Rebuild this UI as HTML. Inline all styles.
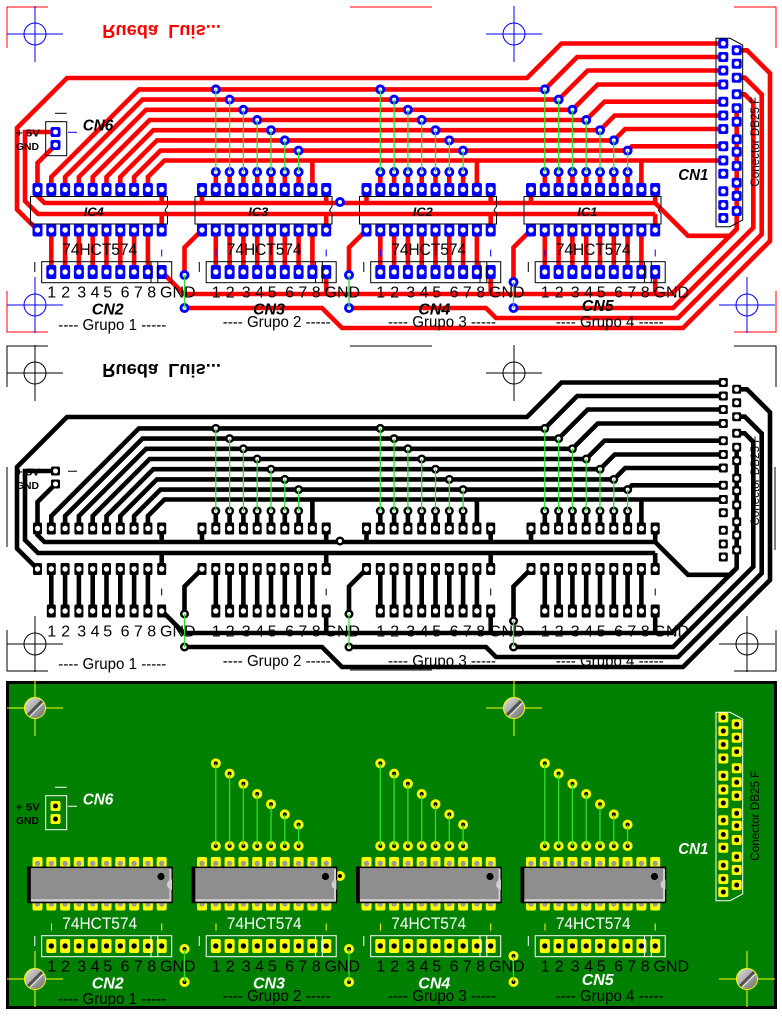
<!DOCTYPE html>
<html><head><meta charset="utf-8"><title>PCB</title>
<style>
html,body{margin:0;padding:0;background:#fff;width:782px;height:1016px;overflow:hidden}
svg{display:block}
text{font-family:"Liberation Sans",Arial,sans-serif}
.bi{font-weight:bold;font-style:italic}
.b{font-weight:bold}
</style></head><body>
<svg xmlns="http://www.w3.org/2000/svg" width="782" height="1016" viewBox="0 0 782 1016">
<defs>
<linearGradient id="sg" x1="0" y1="0" x2="1" y2="1"><stop offset="0" stop-color="#e4e4e4"/><stop offset="1" stop-color="#6a6a6a"/></linearGradient>
<g id="padIC"><rect x="-4.5" y="-6" width="9" height="12" rx="1.5" fill="currentColor" stroke="currentColor"/><circle r="2.7"/></g>
<g id="padCN"><rect x="-4.5" y="-6.5" width="9" height="13" rx="1.5" fill="currentColor" stroke="currentColor"/><circle r="2.7"/></g>
<g id="padS"><rect x="-4.5" y="-4.5" width="9" height="9" rx="1.5" fill="currentColor" stroke="currentColor"/><circle r="2.5"/></g>
<g id="via"><circle r="4.5" fill="currentColor" stroke="currentColor"/><circle r="2"/></g>
<g id="icpads">
<use href="#padIC" x="0" y="189.5"/><use href="#padIC" x="13.8" y="189.5"/><use href="#padIC" x="27.6" y="189.5"/><use href="#padIC" x="41.4" y="189.5"/><use href="#padIC" x="55.2" y="189.5"/><use href="#padIC" x="69" y="189.5"/><use href="#padIC" x="82.8" y="189.5"/><use href="#padIC" x="96.6" y="189.5"/><use href="#padIC" x="110.4" y="189.5"/><use href="#padIC" x="124.2" y="189.5"/>
<use href="#padIC" x="0" y="230"/><use href="#padIC" x="13.8" y="230"/><use href="#padIC" x="27.6" y="230"/><use href="#padIC" x="41.4" y="230"/><use href="#padIC" x="55.2" y="230"/><use href="#padIC" x="69" y="230"/><use href="#padIC" x="82.8" y="230"/><use href="#padIC" x="96.6" y="230"/><use href="#padIC" x="110.4" y="230"/><use href="#padIC" x="124.2" y="230"/>
</g>
<g id="cnpads">
<use href="#padCN" x="13.8" y="272"/><use href="#padCN" x="27.6" y="272"/><use href="#padCN" x="41.4" y="272"/><use href="#padCN" x="55.2" y="272"/><use href="#padCN" x="69" y="272"/><use href="#padCN" x="82.8" y="272"/><use href="#padCN" x="96.6" y="272"/><use href="#padCN" x="110.4" y="272"/><use href="#padCN" x="124.2" y="272"/>
</g>
<g id="viaset">
<use href="#via" x="13.8" y="89.4"/><use href="#via" x="27.6" y="99.6"/><use href="#via" x="41.4" y="109.8"/><use href="#via" x="55.2" y="120"/><use href="#via" x="69" y="130.2"/><use href="#via" x="82.8" y="140.4"/><use href="#via" x="96.6" y="150.6"/>
<use href="#via" x="13.8" y="172"/><use href="#via" x="27.6" y="172"/><use href="#via" x="41.4" y="172"/><use href="#via" x="55.2" y="172"/><use href="#via" x="69" y="172"/><use href="#via" x="82.8" y="172"/><use href="#via" x="96.6" y="172"/>
<path d="M13.8 89.4V172M27.6 99.6V172M41.4 109.8V172M55.2 120V172M69 130.2V172M82.8 140.4V172M96.6 150.6V172" stroke="#2ee02e" stroke-width="1.3" fill="none"/>
</g>
<g id="xvias">
<use href="#via" x="340" y="202"/>
<use href="#via" x="184.5" y="275"/><use href="#via" x="184.5" y="308"/>
<use href="#via" x="349" y="275"/><use href="#via" x="349" y="308"/>
<use href="#via" x="513.5" y="282"/><use href="#via" x="513.5" y="308"/>
<path d="M184.5 275V308M349 275V308M513.5 282V308" stroke="#2ee02e" stroke-width="1.3" fill="none"/>
</g>
<g id="cn1pads">
<use href="#padS" x="723.3" y="43.5"/><use href="#padS" x="723.3" y="57"/><use href="#padS" x="723.3" y="70.5"/><use href="#padS" x="723.3" y="84.5"/><use href="#padS" x="723.3" y="101.7"/><use href="#padS" x="723.3" y="115.5"/><use href="#padS" x="723.3" y="129"/><use href="#padS" x="723.3" y="146.3"/><use href="#padS" x="723.3" y="160.5"/><use href="#padS" x="723.3" y="173.7"/><use href="#padS" x="723.3" y="191.3"/><use href="#padS" x="723.3" y="205"/><use href="#padS" x="723.3" y="218"/>
<use href="#padS" x="736.7" y="50.3"/><use href="#padS" x="736.7" y="63.7"/><use href="#padS" x="736.7" y="77.7"/><use href="#padS" x="736.7" y="94.3"/><use href="#padS" x="736.7" y="108.3"/><use href="#padS" x="736.7" y="121.7"/><use href="#padS" x="736.7" y="139.3"/><use href="#padS" x="736.7" y="151.7"/><use href="#padS" x="736.7" y="166"/><use href="#padS" x="736.7" y="182.7"/><use href="#padS" x="736.7" y="196"/><use href="#padS" x="736.7" y="211"/>
<use href="#padS" x="55.5" y="132"/><use href="#padS" x="55.5" y="145"/>
</g>
<path id="icbox" fill="none" d="M-7 196.5H130V206.5L127.5 210.2L130 213.8V224H-7Z"/>
<g id="cnbox" fill="none"><rect x="4.2" y="261.7" width="130" height="21"/><path d="M113.5 261.7V282.7M120.3 261.7V282.7M-2.7 262V272"/></g>
<path id="ticks" fill="none" d="M14 249.5V256.5M124.2 249.5V256.5"/>
<g id="icbody">
<rect x="-9.7" y="193.3" width="144.2" height="35.2" fill="#8e8e8e" stroke="#000" stroke-width="1.5"/>
<rect x="-9.7" y="193.3" width="3" height="35.2" fill="#000"/>
<rect x="-6.5" y="225.2" width="140.2" height="2.2" fill="#d0d0d0"/>
<rect x="132" y="195" width="2" height="32.4" fill="#d0d0d0"/>
<path d="M134.5 205.5A5 5 0 0 0 134.5 215.5Z" fill="#d0d0d0"/>
<circle cx="123.5" cy="202.5" r="3.6" fill="#000"/>
</g>
<g id="screw">
<path d="M-28 0H28M0 -28V28" stroke="#ff0" stroke-width="1" fill="none"/>
<circle r="10.5" fill="url(#sg)" stroke="#ff0" stroke-width="1"/>
<path d="M7 -7L-7 7" stroke="#505050" stroke-width="3"/>
<path d="M8.3 -5L-5 8.3" stroke="#eeeeee" stroke-width="1"/>
</g>
<g id="traces" fill="none" stroke-width="4.6">
<path d="M51.3 189V177L138.9 89.4H544.8L577.2 57H723.3"/>
<path d="M65.1 189V177L142.5 99.6H558.6L587.7 70.5H723.3"/>
<path d="M78.9 189V177L146.1 109.8H572.4L597.7 84.5H723.3"/>
<path d="M92.7 189V177L149.7 120H586.2L604.5 101.7H723.3"/>
<path d="M106.5 189V177L153.3 130.2H600L614.7 115.5H723.3"/>
<path d="M120.3 189V177L156.9 140.4H613.8L625.2 129H723.3"/>
<path d="M134.1 189V177L160.5 150.6H627.6L631.9 146.3H723.3"/>
<path d="M147.9 189V177L164.4 160.5H723.3"/>
<path d="M37.5 230L17 209.5V128L67 78H527L561.5 43.5H723.3"/>
<path d="M55.5 132H25V201L38 214H655.2"/>
<path d="M55.5 145L37.5 163V196L44.5 203H655.2L688 235.8H730L736.7 229.1"/>
<path d="M202 189V203M366.5 189V203M531 189V203M161.7 189V203M326.2 189V203M490.7 189V203M655.2 189V203M161.7 230V214M326.2 230V214M490.7 230V214M655.2 230V214"/>
<path d="M312.4 160.5V189M476.9 160.5V189M641.4 160.5V189"/>
<path d="M215.8 172V189M229.6 172V189M243.4 172V189M257.2 172V189M271 172V189M284.8 172V189M298.6 172V189M380.3 172V189M394.1 172V189M407.9 172V189M421.7 172V189M435.5 172V189M449.3 172V189M463.1 172V189M544.8 172V189M558.6 172V189M572.4 172V189M586.2 172V189M600 172V189M613.8 172V189M627.6 172V189"/>
<path d="M51.3 230V271.7M65.1 230V271.7M78.9 230V271.7M92.7 230V271.7M106.5 230V271.7M120.3 230V271.7M134.1 230V271.7M147.9 230V271.7M215.8 230V271.7M229.6 230V271.7M243.4 230V271.7M257.2 230V271.7M271 230V271.7M284.8 230V271.7M298.6 230V271.7M312.4 230V271.7M380.3 230V271.7M394.1 230V271.7M407.9 230V271.7M421.7 230V271.7M435.5 230V271.7M449.3 230V271.7M463.1 230V271.7M476.9 230V271.7M544.8 230V271.7M558.6 230V271.7M572.4 230V271.7M586.2 230V271.7M600 230V271.7M613.8 230V271.7M627.6 230V271.7M641.4 230V271.7"/>
<path d="M161.7 271.7L184 294H671.7L736.7 229V108.3"/>
<path d="M326.2 271.7V294M490.7 271.7V294M655.2 271.7V294"/>
<path d="M202 230L184.5 247.5V275M366.5 230L349 247.5V275M531 230L513.5 247.5V282"/>
<path d="M184.5 308H322L342 328H683L770 241V73.3L747 50.3H736.7"/>
<path d="M349 308H486L496 318H678L761.7 234.3V94.5L744.9 77.7H736.7"/>
<path d="M513.5 308H673L753.3 227.7V103L744.6 94.3H736.7"/>
</g>
</defs>

<rect x="0" y="0" width="782" height="1016" fill="#fff"/>

<!-- ================= TOP PANEL (solder side, red) ================= -->
<g>
<path d="M7 48V7H48M350 7H432M734 7H776V48M7 291V332H48M734 332H776V291" fill="none" stroke="#f00" stroke-width="1"/>
<g fill="none" stroke="#00f" stroke-width="1">
<circle cx="35" cy="34" r="11"/><path d="M7 34H63M35 6V62"/>
<circle cx="514" cy="34" r="11"/><path d="M486 34H542M514 6V62"/>
<circle cx="35" cy="305" r="11"/><path d="M7 305H63M35 277V333"/>
<circle cx="747" cy="305" r="11"/><path d="M719 305H775M747 277V333"/>
</g>
<text transform="translate(102.3,25) scale(1,-1)" x="0" y="0" font-size="18.5" class="b" fill="#f00" textLength="118.7" lengthAdjust="spacingAndGlyphs">Rueda&#160; Luis...</text>

<use href="#traces" stroke="#f00"/>

<g color="#0000ff" fill="#fff" stroke-width="1">
<use href="#icpads" x="37.5"/><use href="#icpads" x="202"/><use href="#icpads" x="366.5"/><use href="#icpads" x="531"/>
<use href="#cnpads" x="37.5"/><use href="#cnpads" x="202"/><use href="#cnpads" x="366.5"/><use href="#cnpads" x="531"/>
<use href="#viaset" x="202"/><use href="#viaset" x="366.5"/><use href="#viaset" x="531"/>
<use href="#xvias"/>
<use href="#cn1pads"/>
</g>

<g stroke="#000" stroke-width="1" fill="none">
<use href="#icbox" x="37.5"/><use href="#icbox" x="202"/><use href="#icbox" x="366.5"/><use href="#icbox" x="531"/>
<use href="#cnbox" x="37.5"/><use href="#cnbox" x="202"/><use href="#cnbox" x="366.5"/><use href="#cnbox" x="531"/>
<rect x="45.7" y="121.7" width="21" height="34"/>
<path d="M55 113.3H66.7"/>
<path d="M716 38.3H730L742.7 45V220L730 226.7H716Z"/>
</g>
<g stroke="#00f" stroke-width="1" fill="none">
<use href="#ticks" x="37.5"/><use href="#ticks" x="202"/><use href="#ticks" x="366.5"/><use href="#ticks" x="531"/>
<path d="M68 132.3H77"/>
</g>

<g fill="#000">
<text class="bi" font-size="12" x="83.8" y="216" textLength="20" lengthAdjust="spacingAndGlyphs">IC4</text>
<text class="bi" font-size="12" x="248.3" y="216" textLength="20" lengthAdjust="spacingAndGlyphs">IC3</text>
<text class="bi" font-size="12" x="412.8" y="216" textLength="20" lengthAdjust="spacingAndGlyphs">IC2</text>
<text class="bi" font-size="12" x="577.3" y="216" textLength="20" lengthAdjust="spacingAndGlyphs">IC1</text>
<text font-size="17" x="62.2" y="255" textLength="75" lengthAdjust="spacingAndGlyphs">74HCT574</text>
<text font-size="17" x="226.7" y="255" textLength="75" lengthAdjust="spacingAndGlyphs">74HCT574</text>
<text font-size="17" x="391.2" y="255" textLength="75" lengthAdjust="spacingAndGlyphs">74HCT574</text>
<text font-size="17" x="555.7" y="255" textLength="75" lengthAdjust="spacingAndGlyphs">74HCT574</text>
<text font-size="16" y="297.5" x="47.3 61.3 77.3 90.6 103.3 120.6 133.9 147.3 160">12345678GND</text>
<text font-size="16" y="297.5" x="211.8 225.8 241.8 255.1 267.8 285.1 298.4 311.8 324.5">12345678GND</text>
<text font-size="16" y="297.5" x="376.3 390.3 406.3 419.6 432.3 449.6 462.9 476.3 489">12345678GND</text>
<text font-size="16" y="297.5" x="540.8 554.8 570.8 584.1 596.8 614.1 627.4 640.8 653.5">12345678GND</text>
<text class="bi" font-size="16" x="91.7" y="314.3" textLength="32" lengthAdjust="spacingAndGlyphs">CN2</text>
<text class="bi" font-size="16" x="253" y="314.3" textLength="32" lengthAdjust="spacingAndGlyphs">CN3</text>
<text class="bi" font-size="16" x="418.3" y="314.3" textLength="32" lengthAdjust="spacingAndGlyphs">CN4</text>
<text class="bi" font-size="16" x="581.7" y="311" textLength="32" lengthAdjust="spacingAndGlyphs">CN5</text>
<text font-size="15.5" x="58.3" y="330" textLength="108" lengthAdjust="spacingAndGlyphs">---- Grupo 1 -----</text>
<text font-size="15.5" x="222.7" y="327" textLength="108" lengthAdjust="spacingAndGlyphs">---- Grupo 2 -----</text>
<text font-size="15.5" x="388" y="327" textLength="108" lengthAdjust="spacingAndGlyphs">---- Grupo 3 -----</text>
<text font-size="15.5" x="555.7" y="327" textLength="108" lengthAdjust="spacingAndGlyphs">---- Grupo 4 -----</text>
<text class="b" font-size="10.5" x="16" y="136.5" textLength="24" lengthAdjust="spacingAndGlyphs">+ 5V</text>
<text class="b" font-size="10.5" x="16" y="150" textLength="23" lengthAdjust="spacingAndGlyphs">GND</text>
<text class="bi" font-size="15.5" x="82.7" y="130.7" textLength="30.6" lengthAdjust="spacingAndGlyphs">CN6</text>
<text class="bi" font-size="16" x="678.3" y="180" textLength="30" lengthAdjust="spacingAndGlyphs">CN1</text>
<text transform="translate(759,186.7) rotate(-90)" font-size="12" x="0" y="0" textLength="90" lengthAdjust="spacingAndGlyphs">Conector DB25 F</text>
</g>
</g>

<!-- ================= MIDDLE PANEL (black) ================= -->
<g transform="translate(0,339)">
<path d="M7 48V7H48M350 7H432M734 7H776V48M7 291V332H48M350 331H432M734 332H776V291M7 128V208M775 128V211" fill="none" stroke="#000" stroke-width="1"/>
<g fill="none" stroke="#000" stroke-width="1">
<circle cx="35" cy="34" r="11"/><path d="M7 34H63M35 6V62"/>
<circle cx="514" cy="34" r="11"/><path d="M486 34H542M514 6V62"/>
<circle cx="35" cy="305" r="11"/><path d="M7 305H63M35 277V333"/>
<circle cx="747" cy="305" r="11"/><path d="M719 305H775M747 277V333"/>
</g>
<text transform="translate(102.3,25) scale(1,-1)" x="0" y="0" font-size="18.5" class="b" fill="#000" textLength="118.7" lengthAdjust="spacingAndGlyphs">Rueda&#160; Luis...</text>

<use href="#traces" stroke="#000"/>

<g color="#000" fill="#fff" stroke-width="0">
<use href="#icpads" x="37.5"/><use href="#icpads" x="202"/><use href="#icpads" x="366.5"/><use href="#icpads" x="531"/>
<use href="#cnpads" x="37.5"/><use href="#cnpads" x="202"/><use href="#cnpads" x="366.5"/><use href="#cnpads" x="531"/>
<use href="#viaset" x="202"/><use href="#viaset" x="366.5"/><use href="#viaset" x="531"/>
<use href="#xvias"/>
<use href="#cn1pads"/>
</g>
<path d="M161.7 249.5V256.5M326.2 249.5V256.5M490.7 249.5V256.5M655.2 249.5V256.5M68 132.3H77" stroke="#000" stroke-width="1" fill="none"/>

<g fill="#000">
<text font-size="16" y="297.5" x="47.3 61.3 77.3 90.6 103.3 120.6 133.9 147.3 160">12345678GND</text>
<text font-size="16" y="297.5" x="211.8 225.8 241.8 255.1 267.8 285.1 298.4 311.8 324.5">12345678GND</text>
<text font-size="16" y="297.5" x="376.3 390.3 406.3 419.6 432.3 449.6 462.9 476.3 489">12345678GND</text>
<text font-size="16" y="297.5" x="540.8 554.8 570.8 584.1 596.8 614.1 627.4 640.8 653.5">12345678GND</text>
<text font-size="15.5" x="58.3" y="330" textLength="108" lengthAdjust="spacingAndGlyphs">---- Grupo 1 -----</text>
<text font-size="15.5" x="222.7" y="327" textLength="108" lengthAdjust="spacingAndGlyphs">---- Grupo 2 -----</text>
<text font-size="15.5" x="388" y="327" textLength="108" lengthAdjust="spacingAndGlyphs">---- Grupo 3 -----</text>
<text font-size="15.5" x="555.7" y="327" textLength="108" lengthAdjust="spacingAndGlyphs">---- Grupo 4 -----</text>
<text class="b" font-size="10.5" x="16" y="136.5" textLength="24" lengthAdjust="spacingAndGlyphs">+ 5V</text>
<text class="b" font-size="10.5" x="16" y="150" textLength="23" lengthAdjust="spacingAndGlyphs">GND</text>
<text transform="translate(759,186.7) rotate(-90)" font-size="12" x="0" y="0" textLength="90" lengthAdjust="spacingAndGlyphs">Conector DB25 F</text>
</g>
</g>

<!-- ================= BOTTOM PANEL (component side, green) ================= -->
<rect x="6" y="681" width="771" height="328" fill="#000"/>
<rect x="9" y="684" width="765" height="322" fill="#008000"/>
<g transform="translate(0,674)">
<use href="#screw" x="35" y="34"/>
<use href="#screw" x="514" y="34"/>
<use href="#screw" x="35" y="305"/>
<use href="#screw" x="747" y="305"/>

<g color="#ffff00" fill="#9a9a9a" stroke-width="1">
<use href="#icpads" x="37.5"/><use href="#icpads" x="202"/><use href="#icpads" x="366.5"/><use href="#icpads" x="531"/>
</g>
<g color="#ffff00" fill="#000" stroke-width="1">
<use href="#cnpads" x="37.5"/><use href="#cnpads" x="202"/><use href="#cnpads" x="366.5"/><use href="#cnpads" x="531"/>
<use href="#viaset" x="202"/><use href="#viaset" x="366.5"/><use href="#viaset" x="531"/>
<use href="#xvias"/>
<use href="#cn1pads"/>
</g>
<use href="#icbody" x="37.5"/><use href="#icbody" x="202"/><use href="#icbody" x="366.5"/><use href="#icbody" x="531"/>

<g stroke="#fff" stroke-width="1" fill="none">
<use href="#cnbox" x="37.5"/><use href="#cnbox" x="202"/><use href="#cnbox" x="366.5"/><use href="#cnbox" x="531"/>
<rect x="45.7" y="121.7" width="21" height="34"/>
<path d="M55 113.3H66.7M68 132.3H77"/>
<path d="M716 38.3H730L742.7 45V220L730 226.7H716Z"/>
</g>
<g stroke="#ff0" stroke-width="1" fill="none">
<use href="#ticks" x="37.5"/><use href="#ticks" x="202"/><use href="#ticks" x="366.5"/><use href="#ticks" x="531"/>
</g>

<g fill="#fff">
<text font-size="17" x="62.2" y="255" textLength="75" lengthAdjust="spacingAndGlyphs">74HCT574</text>
<text font-size="17" x="226.7" y="255" textLength="75" lengthAdjust="spacingAndGlyphs">74HCT574</text>
<text font-size="17" x="391.2" y="255" textLength="75" lengthAdjust="spacingAndGlyphs">74HCT574</text>
<text font-size="17" x="555.7" y="255" textLength="75" lengthAdjust="spacingAndGlyphs">74HCT574</text>
<text class="bi" font-size="16" x="91.7" y="314.3" textLength="32" lengthAdjust="spacingAndGlyphs">CN2</text>
<text class="bi" font-size="16" x="253" y="314.3" textLength="32" lengthAdjust="spacingAndGlyphs">CN3</text>
<text class="bi" font-size="16" x="418.3" y="314.3" textLength="32" lengthAdjust="spacingAndGlyphs">CN4</text>
<text class="bi" font-size="16" x="581.7" y="311" textLength="32" lengthAdjust="spacingAndGlyphs">CN5</text>
<text class="bi" font-size="15.5" x="82.7" y="130.7" textLength="30.6" lengthAdjust="spacingAndGlyphs">CN6</text>
<text class="bi" font-size="16" x="678.3" y="180" textLength="30" lengthAdjust="spacingAndGlyphs">CN1</text>
</g>
<g fill="#000">
<text font-size="16" y="297.5" x="47.3 61.3 77.3 90.6 103.3 120.6 133.9 147.3 160">12345678GND</text>
<text font-size="16" y="297.5" x="211.8 225.8 241.8 255.1 267.8 285.1 298.4 311.8 324.5">12345678GND</text>
<text font-size="16" y="297.5" x="376.3 390.3 406.3 419.6 432.3 449.6 462.9 476.3 489">12345678GND</text>
<text font-size="16" y="297.5" x="540.8 554.8 570.8 584.1 596.8 614.1 627.4 640.8 653.5">12345678GND</text>
<text font-size="15.5" x="58.3" y="330" textLength="108" lengthAdjust="spacingAndGlyphs">---- Grupo 1 -----</text>
<text font-size="15.5" x="222.7" y="327" textLength="108" lengthAdjust="spacingAndGlyphs">---- Grupo 2 -----</text>
<text font-size="15.5" x="388" y="327" textLength="108" lengthAdjust="spacingAndGlyphs">---- Grupo 3 -----</text>
<text font-size="15.5" x="555.7" y="327" textLength="108" lengthAdjust="spacingAndGlyphs">---- Grupo 4 -----</text>
<text class="b" font-size="10.5" x="16" y="136.5" textLength="24" lengthAdjust="spacingAndGlyphs">+ 5V</text>
<text class="b" font-size="10.5" x="16" y="150" textLength="23" lengthAdjust="spacingAndGlyphs">GND</text>
<text transform="translate(759,186.7) rotate(-90)" font-size="12" x="0" y="0" textLength="90" lengthAdjust="spacingAndGlyphs">Conector DB25 F</text>
</g>
</g>
</svg>
</body></html>
